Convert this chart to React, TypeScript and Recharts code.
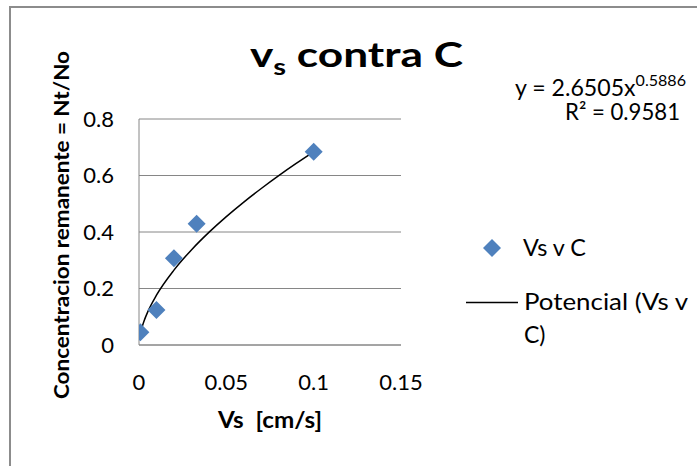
import React from 'react';
import { ComposedChart, Scatter, Line, XAxis, YAxis, CartesianGrid } from 'recharts';

// Measured data (Vs [cm/s] vs remaining concentration Nt/No)
const vsValues = [0.0008, 0.01, 0.02, 0.033, 0.1];
const concValues = [0.045, 0.124, 0.307, 0.429, 0.684];

// Power trendline "Potencial (Vs v C)" sampled along the drawn curve
const trendX = [0.0008, 0.001, 0.0015, 0.002, 0.003, 0.005, 0.01, 0.02, 0.03, 0.04, 0.05, 0.06, 0.07, 0.08, 0.09, 0.1];
const trendY = [0.0399, 0.0455, 0.0577, 0.0684, 0.0868, 0.1172, 0.1763, 0.2651, 0.3366, 0.3987, 0.4546, 0.506, 0.554, 0.5995, 0.6425, 0.6836];

const xTicks = [0, 0.05, 0.1, 0.15];
const yTicks = [0, 0.2, 0.4, 0.6, 0.8];

const titleMain = 'v';
const titleSub = 's';
const titleRest = ' contra C';
const equationText = 'y = 2.6505x';
const equationExp = '0.5886';
const r2Text = 'R² = 0.9581';
const seriesName = 'Vs v C';
const trendNameLine1 = 'Potencial (Vs v';
const trendNameLine2 = 'C)';
const xLabel = 'Vs  [cm/s]';
const yLabel = 'Concentracion remanente = Nt/No';

const points = vsValues.map((x, i) => ({ x, y: concValues[i] }));
const trend = trendX.map((x, i) => ({ x, y: trendY[i] }));

const FONT = 'Lato, "Open Sans", sans-serif';
const GRID = '#868686';
const BLUE = '#4F81BD';

const Diamond = (props: any) => {
  const { cx, cy } = props;
  if (cx == null || cy == null) return null;
  const r = 9;
  return <path d={`M${cx},${cy - r}L${cx + r},${cy}L${cx},${cy + r}L${cx - r},${cy}Z`} fill={BLUE} />;
};

export default function App() {
  return (
    <div style={{ position: 'absolute', left: 0, top: 0, width: 697, height: 466, overflow: 'hidden', background: '#fff' }}>
      <div style={{ position: 'absolute', left: 9, top: 6, width: 720, height: 500, border: '2px solid #8c8c8c', boxSizing: 'border-box' }} />
      <div style={{ position: 'absolute', left: 0, top: 0 }}>
        <ComposedChart width={697} height={466} margin={{ top: 119, right: 296, bottom: 61, left: 79 }}>
          <CartesianGrid vertical={false} horizontal={true} stroke={GRID} strokeWidth={1} />
          <XAxis
            type="number"
            dataKey="x"
            domain={[0, 0.15]}
            ticks={xTicks}
            height={60}
            axisLine={{ stroke: GRID, strokeWidth: 1 }}
            tickLine={false}
            tickSize={0}
            tickMargin={29}
            tick={{ fill: '#000', fontSize: 22, fontFamily: FONT }}
            allowDataOverflow
          />
          <YAxis
            type="number"
            dataKey="y"
            domain={[0, 0.8]}
            ticks={yTicks}
            width={60}
            axisLine={{ stroke: GRID, strokeWidth: 1 }}
            tickLine={false}
            tickSize={0}
            tickMargin={25}
            tick={{ fill: '#000', fontSize: 22, fontFamily: FONT }}
            allowDataOverflow
          />
          <Scatter name={seriesName} data={points} dataKey="y" shape={Diamond} isAnimationActive={false} />
          <Line
            name={trendNameLine1 + ' ' + trendNameLine2}
            data={trend}
            dataKey="y"
            type="monotone"
            dot={false}
            activeDot={false}
            stroke="#000"
            strokeWidth={1.5}
            isAnimationActive={false}
          />
        </ComposedChart>
      </div>
      <svg width={697} height={466} style={{ position: 'absolute', left: 0, top: 0, pointerEvents: 'none' }} fontFamily={FONT}>
        <text x={250} y={67} fontSize={35} fontWeight="bold" fill="#000" textLength={213} lengthAdjust="spacingAndGlyphs">
          {titleMain}
          <tspan fontSize={23} dy={8}>{titleSub}</tspan>
          <tspan dy={-8} fontSize={35}>{titleRest}</tspan>
        </text>
        <text x={515} y={96} fontSize={23} fill="#000" textLength={171} lengthAdjust="spacingAndGlyphs">
          {equationText}
          <tspan fontSize={16} dy={-10}>{equationExp}</tspan>
        </text>
        <text x={565} y={120} fontSize={23} fill="#000" textLength={115} lengthAdjust="spacingAndGlyphs">{r2Text}</text>

        <path d="M492,239L501,248L492,257L483,248Z" fill={BLUE} />
        <text x={523} y={256} fontSize={23} fill="#000" textLength={63} lengthAdjust="spacingAndGlyphs">{seriesName}</text>
        <line x1={466} y1={302.5} x2={518} y2={302.5} stroke="#000" strokeWidth={1.5} />
        <text x={524} y={310} fontSize={23} fill="#000" textLength={164} lengthAdjust="spacingAndGlyphs">{trendNameLine1}</text>
        <text x={524} y={343} fontSize={23} fill="#000">{trendNameLine2}</text>

        <text x={270} y={428} fontSize={22} fontWeight="bold" textAnchor="middle" fill="#000" style={{ whiteSpace: 'pre' }} textLength={104} lengthAdjust="spacingAndGlyphs">{xLabel}</text>
        <text transform="translate(69,225) rotate(-90)" fontSize={21} fontWeight="bold" textAnchor="middle" fill="#000" textLength={348} lengthAdjust="spacingAndGlyphs">{yLabel}</text>
      </svg>
    </div>
  );
}
